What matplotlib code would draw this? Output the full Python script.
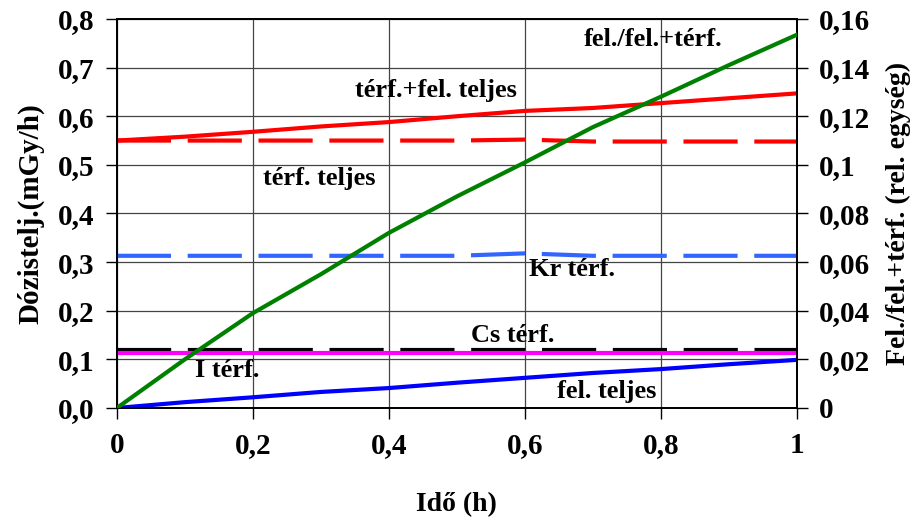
import numpy as np
from matplotlib import pyplot as plt
from matplotlib.ticker import FuncFormatter

# Idő (h)
ido = [0, 0.1, 0.2, 0.3, 0.4, 0.5, 0.6, 0.7, 0.8, 0.9, 1.0]

# left axis series (mGy/h)
terf_fel_teljes = [0.550, 0.558, 0.568, 0.579, 0.588, 0.600, 0.611, 0.617, 0.627, 0.637, 0.647]
terf_teljes = [0.550, 0.550, 0.550, 0.550, 0.550, 0.550, 0.552, 0.548, 0.548, 0.548, 0.548]
kr_terf = [0.313, 0.313, 0.313, 0.313, 0.313, 0.313, 0.318, 0.313, 0.313, 0.313, 0.313]
cs_terf = [0.120, 0.120, 0.120, 0.120, 0.120, 0.120, 0.120, 0.120, 0.120, 0.120, 0.120]
i_terf = [0.113, 0.113, 0.113, 0.113, 0.113, 0.113, 0.113, 0.113, 0.113, 0.113, 0.113]
fel_teljes = [0.000, 0.012, 0.022, 0.033, 0.041, 0.052, 0.062, 0.072, 0.080, 0.090, 0.099]

# right axis series (rel. egység)
fel_per_ossz = [0.000, 0.020, 0.039, 0.055, 0.072, 0.087, 0.101, 0.1155, 0.128, 0.141, 0.1535]

plt.rcParams['font.family'] = ['Liberation Serif', 'DejaVu Serif']
plt.rcParams['font.weight'] = 'bold'

fig = plt.figure(figsize=(9.2, 5.22), dpi=100)
ax1 = fig.add_axes([0.127, 0.2184, 0.739, 0.7452])
ax2 = ax1.twinx()

lw = 3.0
dash = (13, 4)
ax1.plot(ido, terf_fel_teljes, color='#ff0000', lw=lw, zorder=5)
ax1.plot(ido, terf_teljes, color='#ff0000', lw=lw, dashes=dash, zorder=5)
ax1.plot(ido, kr_terf, color='#3366ff', lw=lw, dashes=dash, zorder=5)
ax1.plot(ido, cs_terf, color='black', lw=lw, dashes=dash, zorder=5)
ax1.plot(ido, i_terf, color='#ff00ff', lw=lw, zorder=5)
ax1.plot(ido, fel_teljes, color='#0000ff', lw=lw, zorder=5)
ax2.plot(ido, fel_per_ossz, color='#008000', lw=lw, zorder=5)

ax1.set_xlim(0, 1)
ax1.set_ylim(0, 0.8)
ax2.set_ylim(0, 0.16)
ax1.set_xticks(np.arange(0, 1.01, 0.2))
ax1.set_yticks(np.arange(0, 0.81, 0.1))
ax2.set_yticks(np.arange(0, 0.161, 0.02))

def comma(fmt):
    return FuncFormatter(lambda v, p: fmt(v).replace('.', ','))

ax1.xaxis.set_major_formatter(comma(lambda v: ('%.1f' % v).rstrip('0').rstrip('.')))
ax1.yaxis.set_major_formatter(comma(lambda v: '%.1f' % v))
ax2.yaxis.set_major_formatter(comma(lambda v: ('%.2f' % v).rstrip('0').rstrip('.')))

ax1.grid(True, color='#444444', lw=0.9)
ax1.set_axisbelow(True)
for ax in (ax1, ax2):
    ax.tick_params(direction='out', length=8, width=1, labelsize=21, pad=8)
    for s in ax.spines.values():
        s.set_linewidth(1.3)
        s.set_color('black')
ax1.tick_params(axis='x', pad=9)

ax1.set_xlabel('Idő (h)', fontsize=20, fontweight='bold', labelpad=24)
ax1.set_ylabel('Dózistelj.(mGy/h)', fontsize=21, fontweight='bold', labelpad=10)
ax2.set_ylabel('Fel./fel.+térf. (rel. egység)', fontsize=20, fontweight='bold', labelpad=11)

lab = dict(fontsize=19, fontweight='bold', ha='center', va='center', zorder=6)
ax1.text(0.788, 0.757, 'fel./fel.+térf.', **lab)
ax1.text(0.470, 0.652, 'térf.+fel. teljes', **lab)
ax1.text(0.297, 0.473, 'térf. teljes', **lab)
ax1.text(0.670, 0.284, 'Kr térf.', **lab)
ax1.text(0.582, 0.150, 'Cs térf.', **lab)
ax1.text(0.163, 0.078, 'I térf.', **lab)
ax1.text(0.720, 0.033, 'fel. teljes', **lab)

plt.savefig('out.png', dpi=100)
